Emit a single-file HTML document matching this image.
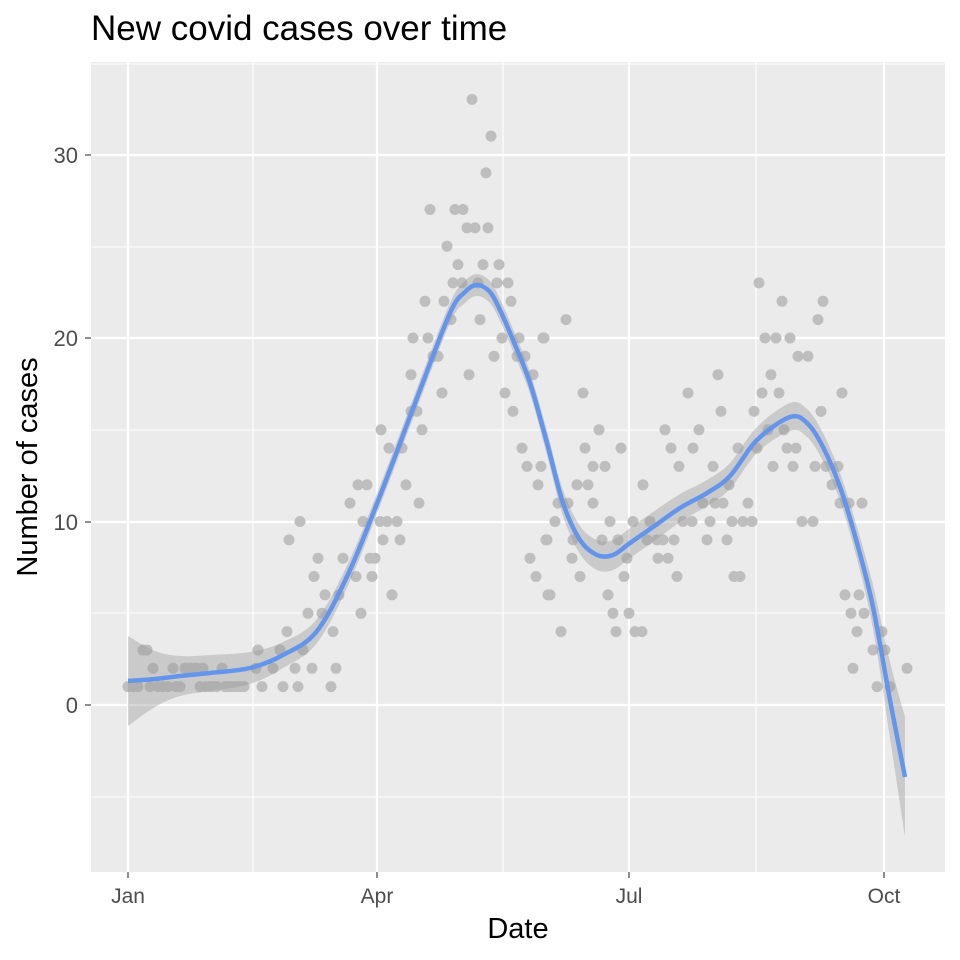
<!DOCTYPE html>
<html><head><meta charset="utf-8"><style>body{margin:0;background:#fff}svg{display:block}</style></head><body>
<svg id="s" width="960" height="960" xmlns="http://www.w3.org/2000/svg" font-family="Liberation Sans, sans-serif">
<rect x="0" y="0" width="960" height="960" fill="#fff"/>
<rect x="91" y="62" width="854" height="810" fill="#ebebeb"/>
<g stroke="#fff" stroke-width="1.1">
<line x1="91" x2="945" y1="797" y2="797"/><line x1="91" x2="945" y1="613" y2="613"/><line x1="91" x2="945" y1="430" y2="430"/><line x1="91" x2="945" y1="247" y2="247"/><line x1="91" x2="945" y1="64" y2="64"/>
<line y1="62" y2="872" x1="253" x2="253"/><line y1="62" y2="872" x1="503" x2="503"/><line y1="62" y2="872" x1="756" x2="756"/>
</g>
<g stroke="#fff" stroke-width="2.2">
<line x1="91" x2="945" y1="705" y2="705"/><line x1="91" x2="945" y1="522" y2="522"/><line x1="91" x2="945" y1="338" y2="338"/><line x1="91" x2="945" y1="155" y2="155"/>
<line y1="62" y2="872" x1="128" x2="128"/><line y1="62" y2="872" x1="377" x2="377"/><line y1="62" y2="872" x1="629" x2="629"/><line y1="62" y2="872" x1="884" x2="884"/>
</g>
<g id="pts" fill="#bebebe"></g>
<path id="band" fill="#999" fill-opacity="0.4"/>
<path id="curve" fill="none" stroke="#6495ed" stroke-width="4.5"/>
<g stroke="#333" stroke-width="1.1">
<line x1="85" x2="91" y1="705" y2="705"/><line x1="85" x2="91" y1="522" y2="522"/><line x1="85" x2="91" y1="338" y2="338"/><line x1="85" x2="91" y1="155" y2="155"/>
<line y1="872" y2="878" x1="128" x2="128"/><line y1="872" y2="878" x1="377" x2="377"/><line y1="872" y2="878" x1="629" x2="629"/><line y1="872" y2="878" x1="884" x2="884"/>
</g>
<g fill="#4d4d4d" font-size="22" text-anchor="end">
<text x="78" y="713">0</text><text x="78" y="530">10</text><text x="78" y="346">20</text><text x="78" y="163">30</text>
</g>
<g fill="#4d4d4d" font-size="21" text-anchor="middle">
<text x="128" y="903">Jan</text><text x="377" y="903">Apr</text><text x="629" y="903">Jul</text><text x="884" y="903">Oct</text>
</g>
<text x="518" y="938" font-size="29" text-anchor="middle" fill="#000">Date</text>
<text transform="translate(37,467) rotate(-90)" font-size="29" text-anchor="middle" fill="#000">Number of cases</text>
<text x="91" y="40" font-size="35" fill="#000">New covid cases over time</text>
</svg>
<script>
var P=[[128,1],[133,1],[138,1],[143,3],[147,3],[150,1],[153,2],[158,1],[163,1],[168,1],[173,2],[176,1],[180,1],[185,2],[190,2],[194,2],[197,2],[200,1],[203,2],[206,1],[210,1],[213,1],[217,1],[222,2],[225,1],[228,1],[232,1],[236,1],[240,1],[244,1],
[262,1],[283,1],[298,1],[331,1],[256,2],[273,2],[295,2],[312,2],[336,2],[258,3],[280,3],[303,3],[287,4],[333,4],[308,5],[322,5],[361,5],[325,6],[339,6],[392,6],[314,7],[356,7],[372,7],[318,8],[343,8],[370,8],[375,8],[289,9],[383,9],[400,9],[300,10],[363,10],[380,10],[387,10],[397,10],[350,11],[419,11],[358,12],[367,12],[406,12],[381,15],[389,14],[402,14],[422,15],[411,16],[417,16],[442,17],[411,18],[438,19],[433,19],[413,20],[428,20],[469,18],[494,19],[502,20],[519,20],[543,20],[425,22],[444,22],[451,21],[480,21],[453,23],[462,23],[478,23],[497,23],[508,23],[511,22],[458,24],[483,24],[499,24],[447,25],[467,26],[475,26],[488,26],[430,27],[455,27],[463,27],[486,29],[491,31],[472,33],[505,17],[513,16],[522,14],[527,13],[541,13],[538,12],[517,19],[525,19],[533,18],[546,9],[530,8],[536,7],[548,6],
[566,21],[544,20],[583,17],[599,15],[585,14],[621,14],[593,13],[605,13],[577,12],[588,12],[558,11],[568,11],[593,11],[555,10],[610,10],[633,10],[547,9],[573,9],[602,9],[618,9],[572,8],[627,8],[580,7],[624,7],[550,6],[608,6],[613,5],[629,5],[561,4],[616,4],[635,4],[642,4],[643,12],[650,10],[647,9],[657,9],[663,9],[674,9],[658,8],[668,8],[677,7],[665,15],[671,14],[679,13],[699,15],[693,14],[688,17],[718,18],[721,16],[713,13],[729,12],[703,11],[715,11],[723,11],[748,11],[683,10],[692,10],[710,10],[732,10],[743,10],[752,10],[707,9],[727,9],[734,7],[740,7],[738,14],[757,14],[754,16],[768,15],[784,15],[762,17],[779,17],[771,18],[765,20],[776,20],[790,20],[798,19],[808,19],[759,23],[782,22],[823,22],[818,21],[787,14],[796,14],[773,13],[793,13],[815,13],[826,13],[838,13],[821,16],[842,17],[832,12],[840,11],[849,11],[862,11],[802,10],[813,10],[845,6],[859,6],[851,5],[864,5],[857,4],[882,4],[873,3],[885,3],[853,2],[907,2],[877,1],[890,1]];
var g=document.getElementById('pts'),h='';
P.forEach(function(p){h+='<circle cx="'+p[0]+'" cy="'+(705-p[1]*18.35).toFixed(1)+'" r="5.5"/>';});
g.innerHTML=h;
var C=[[128,681,45],[155,679,28],[180,676,20],[210,673,18],[250,668,16],[283,655,13],[317,631,12],[350,570,11],[383,488,10],[417,398,10],[450,313,10],[465,292,11],[477,285,11],[490,292,11],[500,310,11],[513,340,11],[530,383,11],[547,443,12],[563,503,13],[580,540,14],[597,555,15],[613,555,15],[630,543,15],[653,527,15],[680,508,14],[707,493,13],[730,476,13],[757,440,13],[790,417,14],[807,423,14],[823,447,14],[840,487,14],[857,543,16],[873,607,22],[890,700,38],[905,777,60]];
function sm(a){var d='M'+a[0][0]+','+a[0][1];for(var i=0;i<a.length-1;i++){var p0=a[Math.max(i-1,0)],p1=a[i],p2=a[i+1],p3=a[Math.min(i+2,a.length-1)];
d+=' C'+(p1[0]+(p2[0]-p0[0])/6).toFixed(1)+','+(p1[1]+(p2[1]-p0[1])/6).toFixed(1)+' '+(p2[0]-(p3[0]-p1[0])/6).toFixed(1)+','+(p2[1]-(p3[1]-p1[1])/6).toFixed(1)+' '+p2[0]+','+p2[1];}return d;}
document.getElementById('curve').setAttribute('d',sm(C));
var up=C.map(function(c){return [c[0],c[1]-c[2]];}),lo=C.map(function(c){return [c[0],c[1]+c[2]];}).reverse();
document.getElementById('band').setAttribute('d',sm(up)+' L'+sm(lo).slice(1)+'Z');
</script>
</body></html>
